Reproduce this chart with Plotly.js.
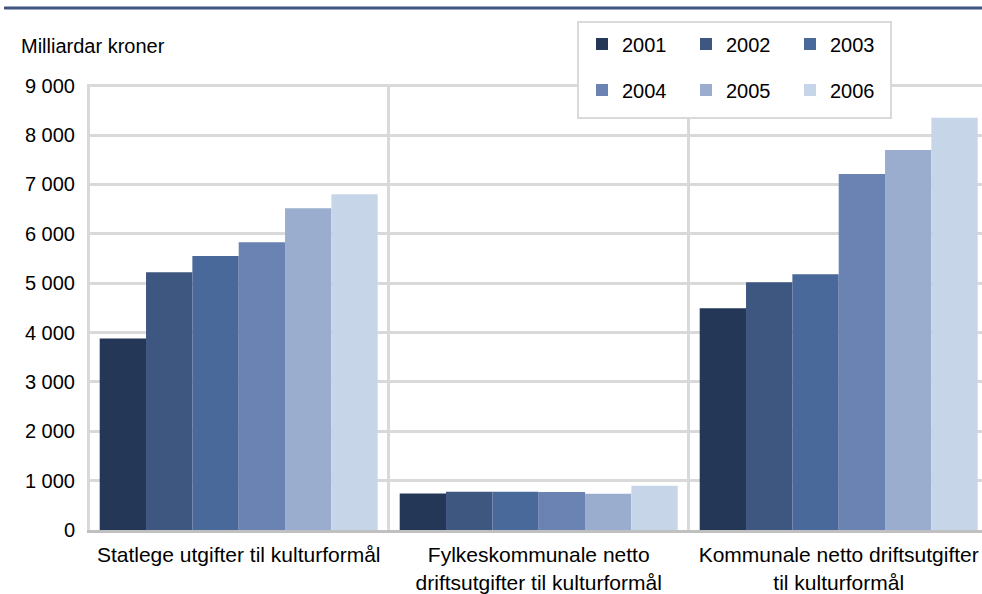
<!DOCTYPE html>
<html>
<head>
<meta charset="utf-8">
<script src="https://cdn.plot.ly/plotly-3.0.1.min.js"></script>
<style>html,body{margin:0;padding:0;background:#fff;}#chart{width:982px;height:594px;}</style>
</head>
<body>
<div id="chart"></div>
<script>
// Data
var categories = [
  "Statlege utgifter til kulturformål",
  "Fylkeskommunale netto<br>driftsutgifter til kulturformål",
  "Kommunale netto driftsutgifter<br>til kulturformål"
];
var years = ["2001", "2002", "2003", "2004", "2005", "2006"];
var v2001 = [3880, 740, 4490];
var v2002 = [5220, 775, 5020];
var v2003 = [5550, 775, 5180];
var v2004 = [5830, 770, 7210];
var v2005 = [6520, 735, 7700];
var v2006 = [6800, 895, 8350];
var yTickVals = [0, 1000, 2000, 3000, 4000, 5000, 6000, 7000, 8000, 9000];
var yTitle = "Milliardar kroner";

var seriesValues = [v2001, v2002, v2003, v2004, v2005, v2006];
var colors = ["#253756", "#3e5781", "#4a699b", "#6a83b2", "#9badce", "#c6d6e8"];
var font = "Liberation Sans, Arial, sans-serif";

var traces = years.map(function (yr, i) {
  return {
    type: "bar",
    name: yr,
    x: categories,
    y: seriesValues[i],
    marker: { color: colors[i], line: { width: 0 } },
    legend: i < 3 ? "legend" : "legend2",
    hoverinfo: "skip"
  };
});

var L = 87, T = 84, B = 64;
var W = 982 - L, H = 594 - T - B;
function px(x) { return (x - L) / W; }
function py(y) { return (594 - B - y) / H; }

var legendCommon = {
  orientation: "h",
  xanchor: "left",
  yanchor: "middle",
  bgcolor: "rgba(0,0,0,0)",
  borderwidth: 0,
  font: { family: font, size: 20, color: "#000" },
  entrywidth: 59,
  entrywidthmode: "pixels",
  itemclick: false,
  itemdoubleclick: false
};
var legend1 = Object.assign({}, legendCommon, { x: px(582), y: py(44) });
var legend2 = Object.assign({}, legendCommon, { x: px(582), y: py(90) });

var x0 = -0.5 - 1.7 / 300;

var layout = {
  width: 982,
  height: 594,
  margin: { l: L, r: 0, t: T, b: B, autoexpand: false },
  paper_bgcolor: "#fff",
  plot_bgcolor: "#fff",
  font: { family: font, size: 20, color: "#000" },
  barmode: "group",
  bargap: 0.0733,
  bargroupgap: 0,
  showlegend: true,
  legend: legend1,
  legend2: legend2,
  xaxis: {
    type: "category",
    range: [x0, x0 + W / 300],
    tickson: "boundaries",
    showgrid: true,
    gridcolor: "#d9d9d9",
    gridwidth: 3,
    ticks: "",
    showline: true,
    linecolor: "#c0c0c0",
    linewidth: 3,
    zeroline: false,
    ticklabelstandoff: 4,
    tickfont: { family: font, size: 21, color: "#000" }
  },
  yaxis: {
    range: [0, 9035],
    tickvals: yTickVals,
    tickformat: ",d",
    showgrid: true,
    gridcolor: "#d9d9d9",
    gridwidth: 3,
    zeroline: false,
    showline: false,
    ticks: "",
    ticklabelstandoff: 11,
    tickfont: { family: font, size: 20, color: "#000" }
  },
  separators: ", ",
  shapes: [
    {
      type: "rect", xref: "paper", yref: "paper", layer: "above",
      x0: px(578), x1: px(891),
      y0: py(118), y1: py(22),
      fillcolor: "#fff", line: { color: "#d9d9d9", width: 2 }
    },
    {
      type: "line", xref: "paper", yref: "paper", layer: "above",
      x0: px(4), x1: 1,
      y0: py(8), y1: py(8),
      line: { color: "#3f5580", width: 3 }
    }
  ],
  annotations: [
    {
      text: yTitle, xref: "paper", yref: "paper",
      x: px(19), y: py(46),
      xanchor: "left", yanchor: "middle", showarrow: false,
      font: { family: font, size: 20, color: "#000" }
    }
  ]
};

Plotly.newPlot("chart", traces, layout, { displayModeBar: false, staticPlot: true });
</script>
</body>
</html>
